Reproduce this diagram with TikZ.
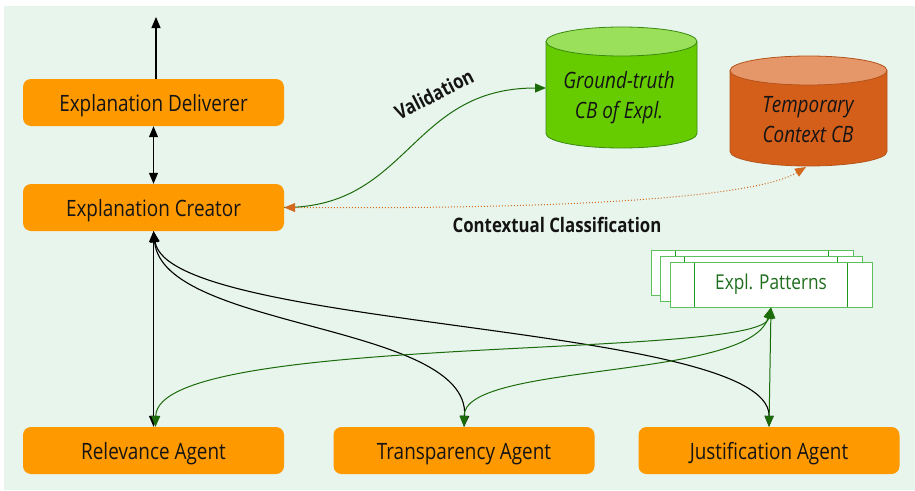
\documentclass[tikz,border=0pt]{standalone}
\usepackage{fontspec}
\setmainfont[FakeStretch=0.84]{Open Sans}
\usetikzlibrary{arrows.meta}
\definecolor{bg}{HTML}{E8F5EC}
\definecolor{boxor}{HTML}{FF9900}
\definecolor{darkg}{HTML}{1B6B0B}
\definecolor{ctxor}{HTML}{D2691E}
\definecolor{gbody}{HTML}{66CC00}
\definecolor{gtop}{HTML}{9BE05A}
\definecolor{gline}{HTML}{3A8A10}
\definecolor{obody}{HTML}{D45F1A}
\definecolor{otop}{HTML}{E5976A}
\definecolor{oline}{HTML}{B5531A}
\definecolor{patb}{HTML}{5CC05C}
\definecolor{patin}{HTML}{1E9A1E}
\definecolor{pattext}{HTML}{1E6E1E}
\tikzset{
  agent/.style={fill=boxor, rounded corners=8pt, minimum width=261pt, minimum height=47pt,
    inner sep=0pt, text height=17pt, text depth=0pt, font=\fontsize{22.5}{25}\selectfont, text=black!92},
  cyltext/.style={align=center, font=\fontsize{22.5}{30}\selectfont\itshape, text=black!92},
  patbox/.style={draw=patb, fill=white, line width=1pt, minimum width=202pt, minimum height=45pt,
    inner sep=0pt, text=pattext, font=\fontsize{20.5}{22}\selectfont,
    path picture={\draw[patin, line width=0.8pt]
      ([xshift=24pt]path picture bounding box.north west) -- ([xshift=24pt]path picture bounding box.south west)
      ([xshift=-25pt]path picture bounding box.north east) -- ([xshift=-25pt]path picture bounding box.south east);}},
  blk/.style={line width=1.1pt, black},
  grn/.style={line width=1pt, darkg},
  head/.style={{Triangle[length=11pt,width=9pt]}-{Triangle[length=11pt,width=9pt]}},
  endhead/.style={-{Triangle[length=11pt,width=9pt]}},
  lbl/.style={font=\fontsize{20}{22}\selectfont\bfseries, text=black!92}
}
\begin{document}
\begin{tikzpicture}[x=1pt,y=-1pt]
\useasboundingbox (0,0) rectangle (915,490);
\fill[bg] (4,6) rectangle (915,490);

% boxes
\node[agent] (deliv) at (153.5,102.5) {Explanation Deliverer};
\node[agent] (creat) at (153.5,207.5) {Explanation Creator};
\node[agent] (relev) at (153.5,450.5) {Relevance Agent};
\node[agent] (transp) at (464,450.5) {Transparency Agent};
\node[agent] (justif) at (769,450.5) {Justification Agent};

% green cylinder
\fill[gbody] (546,41.5) -- (546,133.5) arc[start angle=180,end angle=360,x radius=75.5pt,y radius=14.5pt] -- (697,41.5) -- cycle;
\draw[gline, line width=0.8pt] (546,41.5) -- (546,133.5) arc[start angle=180,end angle=360,x radius=75.5pt,y radius=14.5pt] -- (697,41.5);
\filldraw[fill=gtop, draw=gline, line width=0.8pt] (621.5,41.5) ellipse[x radius=75.5pt, y radius=14.5pt];
\node[cyltext] (gt) at (619,98) {Ground-truth\\CB of Expl.};
\coordinate (gtl) at (546,88);

% orange cylinder
\fill[obody] (730,70.5) -- (730,151.5) arc[start angle=180,end angle=360,x radius=78.5pt,y radius=14.5pt] -- (887,70.5) -- cycle;
\draw[oline, line width=0.8pt] (730,70.5) -- (730,151.5) arc[start angle=180,end angle=360,x radius=78.5pt,y radius=14.5pt] -- (887,70.5);
\filldraw[fill=otop, draw=oline, line width=0.8pt] (808.5,70.5) ellipse[x radius=78.5pt, y radius=14.5pt];
\node[cyltext] (tc) at (808,120) {Temporary\\Context CB};
\coordinate (tcb) at (806,167);

% patterns
\node[patbox] (pat3) at (752.5,273) {};
\node[patbox] (pat2) at (761.5,278.5) {};
\node[patbox] (pat) at (771,284.5) {Expl. Patterns};

% black connectors
\coordinate (topend) at (156,17);
\draw[blk, endhead] ([xshift=2.5pt]deliv.north) -- (topend);
\draw[blk, head] (deliv.south) -- (creat.north);
\draw[blk, head] (creat.south) -- (relev.north);
\draw[blk, head] (creat.south) .. controls +(10,99) and +(6,-104) .. (transp.north);
\draw[blk, head] (creat.south) .. controls +(15,99) and +(1,-104) .. (justif.north);

% green connectors
\draw[grn, head] (pat.south) .. controls +(-11,53) and +(2,-95) .. ([xshift=2pt]relev.north);
\draw[grn, head] (pat.south) .. controls +(-21,73) and +(0,-65) .. (transp.north);
\draw[grn, head] (pat.south) -- (justif.north);

% validation
\draw[grn, endhead] (creat.east) .. controls +(125,0) and +(-136,0) .. (gtl);
\node[lbl, rotate=27] (val) at (434,94) {Validation};

% contextual classification
\draw[ctxor, line width=1pt, dotted, head] (creat.east) .. controls +(315,2) and +(-46,28) .. (tcb);
\node[lbl] (ctx) at (557,225) {Contextual Classification};
\end{tikzpicture}
\end{document}
